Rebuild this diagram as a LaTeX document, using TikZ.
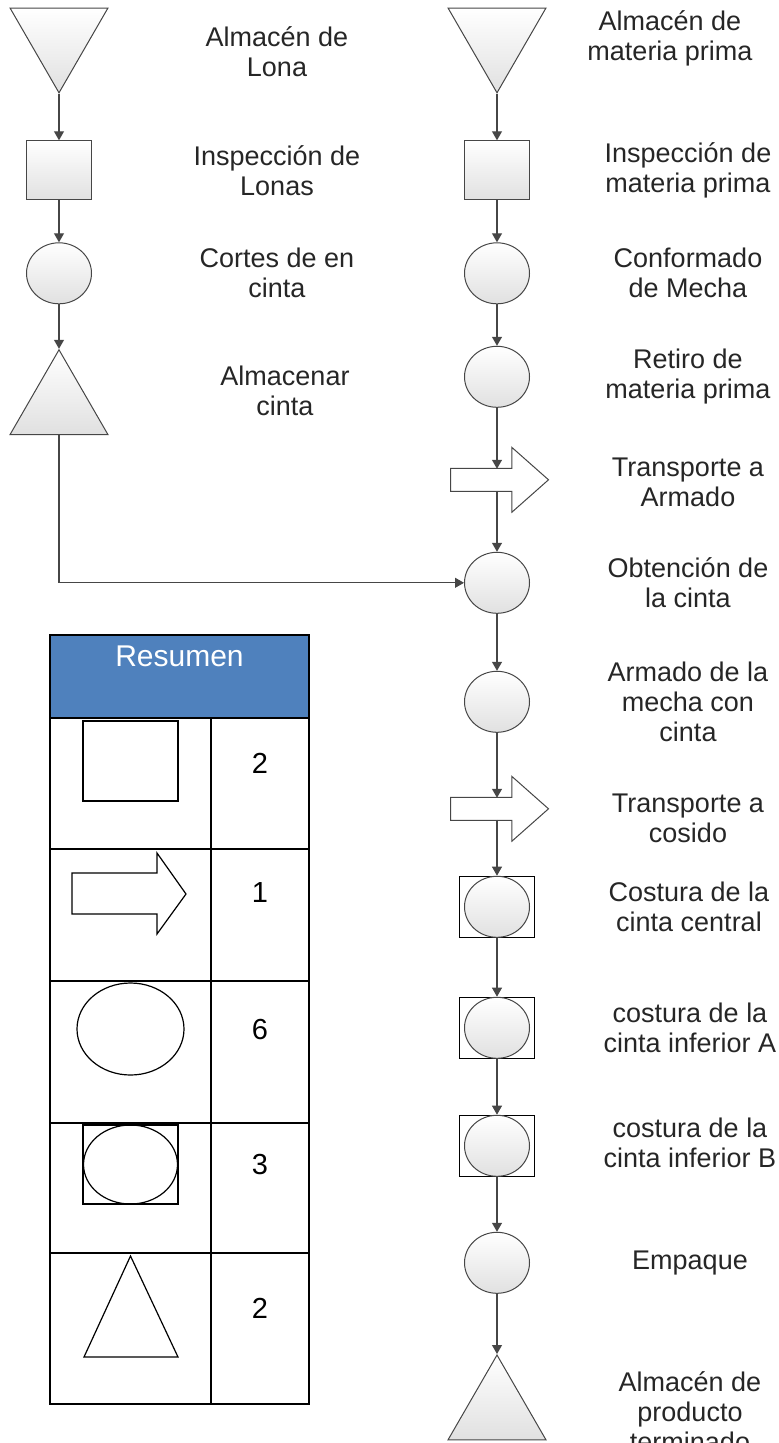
\documentclass[tikz,border=0pt]{standalone}
\usepackage{fontspec}
\setmainfont{Liberation Sans}
\usetikzlibrary{arrows.meta,calc,positioning,shapes.geometric,shapes.arrows}

\definecolor{edgegray}{RGB}{70,70,70}
\definecolor{resblue}{RGB}{79,129,189}
\newcommand{\lblfont}{\fontsize{27}{30}\selectfont}
\newcommand{\numfont}{\fontsize{29}{30}\selectfont}
\newcommand{\resfont}{\fontsize{30}{32}\selectfont}

\begin{document}
\begin{tikzpicture}[x=1pt,y=1pt,node distance=103pt,on grid,
        >={Triangle[length=9pt,width=10pt]}]
        \tikzstyle{sym}=[draw=edgegray,line width=1pt,top color=white,bottom color=black!12,inner sep=0pt]
        \tikzstyle{op}=[sym,ellipse,minimum width=65pt,minimum height=61pt]
        \tikzstyle{insp}=[sym,rectangle,minimum width=65pt,minimum height=59pt]
        \tikzstyle{alm}=[sym,regular polygon,regular polygon sides=3,minimum size=113pt]
        \tikzstyle{almdown}=[alm,shape border rotate=180]
        \tikzstyle{transp}=[draw=edgegray,line width=1pt,fill=white,single arrow,
            minimum height=98pt,inner xsep=0pt,inner ysep=11pt,single arrow head extend=21pt,
            single arrow head indent=0pt,single arrow tip angle=83]
        \tikzstyle{combo}=[draw=black,line width=1.3pt,fill=white,rectangle,
            minimum width=75pt,minimum height=61pt,inner sep=0pt]
        \tikzstyle{lbl}=[align=center,font=\lblfont,text=black!85]
        \tikzstyle{flow}=[->,draw=edgegray,line width=1.1pt]
        \tikzstyle{tbl}=[line width=1.8pt]
        \tikzstyle{cell}=[line width=1.2pt]

        \useasboundingbox (0,0) rectangle (779,-1443);

        % lona
        \node[almdown] (l1) at (59,-36.3) {};
        \node[insp]    (l2) [below=134pt of l1] {};
        \node[op]      (l3) [below=of l2] {};
        \node[alm]     (l4) [below=133pt of l3] {};

        % materia prima
        \node[almdown] (r1) at (497,-36.3) {};
        \node[insp]    (r2) [below=134pt of r1] {};
        \node[op]      (r3) [below=of r2] {};
        \node[op]      (r4) [below=103.5pt of r3] {};
        \node[transp]  (r5) [below=of r4,anchor=tail,xshift=-47pt] {};
        \node[op]      (r6) [below=206pt of r4] {};
        \node[op]      (r7) [below=119pt of r6] {};
        \node[transp]  (r8) [below=107pt of r7,anchor=tail,xshift=-47pt] {};
        \node[combo]   (r9) [below=205pt of r7] {};
        \node[op]      (r9c) at (r9) {};
        \node[combo]   (r10) [below=121pt of r9] {};
        \node[op]      (r10c) at (r10) {};
        \node[combo]   (r11) [below=118pt of r10] {};
        \node[op]      (r11c) at (r11) {};
        \node[op]      (r12) [below=117pt of r11] {};
        \node[alm]     (r13) [below=148.7pt of r12] {};

        \node[lbl] (l1t) [right=218pt of l1,yshift=-15.7pt] {Almacén de\\Lona};
        \node[lbl] (l2t) [right=218pt of l2] {Inspección de\\Lonas};
        \node[lbl] (l3t) [right=218pt of l3] {Cortes de en\\cinta};
        \node[lbl] (l4t) [right=226pt of l4,yshift=15.7pt] {Almacenar\\cinta};

        \node[lbl] (r1t) [right=173pt of r1,yshift=-1.7pt] {Almacén de\\materia prima};
        \node[lbl] (r2t) [right=191pt of r2] {Inspección de\\materia prima};
        \node[lbl] (r3t) [right=191pt of r3] {Conformado\\de Mecha};
        \node[lbl] (r4t) [right=191pt of r4] {Retiro de\\materia prima};
        \node[lbl] (r5t) [below=106pt of r4t] {Transporte a\\Armado};
        \node[lbl] (r6t) [right=191pt of r6] {Obtención de\\la cinta};
        \node[lbl] (r7t) [right=191pt of r7] {Armado de la\\mecha con\\cinta};
        \node[lbl] (r8t) [below=117pt of r7t] {Transporte a\\cosido};
        \node[lbl] (r9t) [right=192pt of r9] {Costura de la\\cinta central};
        \node[lbl] (r10t) [right=193pt of r10] {costura de la\\cinta inferior A};
        \node[lbl] (r11t) [right=193pt of r11,yshift=3pt] {costura de la\\cinta inferior B};
        \node[lbl] (r12t) [right=193pt of r12] {Empaque};
        \node[lbl] (r13t) [right=193pt of r13] {Almacén de\\producto\\terminado};

        \draw[flow] (l1) -- (l2);
        \draw[flow] (l2) -- (l3);
        \draw[flow] (l3) -- (l4);
        \draw[flow] (l4) |- (r6);

        \draw[flow] (r1) -- (r2);
        \draw[flow] (r2) -- (r3);
        \draw[flow] (r3) -- (r4);
        \draw[flow] (r4) -- ($(r5.tail)+(47,11)$);
        \draw[flow] ($(r5.tail)+(47,-11)$) -- (r6);
        \draw[flow] (r6) -- (r7);
        \draw[flow] (r7) -- ($(r8.tail)+(47,11)$);
        \draw[flow] ($(r8.tail)+(47,-11)$) -- (r9);
        \draw[flow] (r9) -- (r10);
        \draw[flow] (r10) -- (r11);
        \draw[flow] (r11) -- (r12);
        \draw[flow] (r12) -- (r13);

        % resumen
        \fill[resblue] (50,-635) rectangle (309,-718);
        \node[font=\resfont,text=white] (res) at (179.5,-656) {Resumen};
        \draw[tbl] (50,-635) rectangle (309,-1404);
        \foreach \y in {718,849,981,1123,1253}
            \draw[tbl] (50,-\y) -- (309,-\y);
        \draw[tbl] (211,-718) -- (211,-1404);

        \draw[cell] (83,-721) rectangle (178,-801);
        \draw[cell] (72,-873) -- (157,-873) -- (157,-853) -- (186,-894)
            -- (157,-934) -- (157,-914) -- (72,-914) -- cycle;
        \draw[cell] (130.5,-1029) ellipse [x radius=53.5pt,y radius=46pt];
        \draw[cell] (83,-1125) rectangle (178,-1204);
        \draw[cell] (130.5,-1164.5) ellipse [x radius=47pt,y radius=39.5pt];
        \draw[cell] (130.5,-1256) -- (178,-1357) -- (84,-1357) -- cycle;

        \foreach \n/\y in {2/763,1/893,6/1030,3/1165,2/1308}
            \node[font=\numfont] (n\y) at (260,-\y) {\n};
\end{tikzpicture}
\end{document}
